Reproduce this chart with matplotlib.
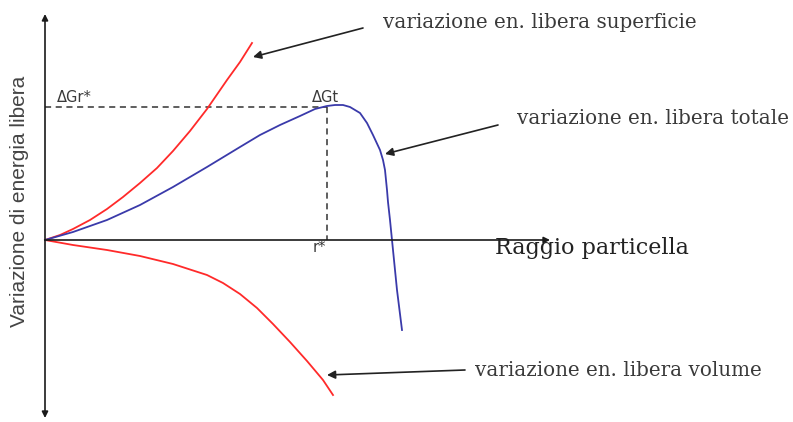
"""Schema: variazione di energia libera vs raggio della particella (nucleazione)."""

import matplotlib

matplotlib.use("Agg")
import matplotlib.pyplot as plt

# ── Data (origin = axis crossing) ─────────────────────────────────────────────

# surface free-energy term (red, rising)
r_surf = [0, 15, 28, 45, 62, 78, 95, 112, 128, 145, 162, 182, 195, 207]
g_surf = [0, 5, 11, 20, 31, 43, 57, 72, 89, 109, 131, 160, 178, 197]

# volume free-energy term (red, falling)
r_vol = [0, 28, 62, 95, 128, 162, 178, 195, 212, 228, 245, 262, 278, 288]
g_vol = [0, -5, -10, -16, -24, -35, -43, -54, -68, -84, -102, -121, -140, -155]

# total free energy (blue)
r_tot = [0, 28, 62, 95, 128, 162, 195, 215, 235, 255, 270, 282, 290, 298,
         305, 315, 322, 328, 335, 338, 340, 341, 342, 343, 345, 347, 352, 357]
g_tot = [0, 8, 20, 35, 53, 73, 93, 105, 115, 124, 131, 134, 135, 135,
         133, 127, 117, 105, 90, 80, 70, 60, 50, 38, 20, 0, -50, -90]

r_star = 282
g_star = 133

LABEL_Y = "Variazione di energia libera"
LABEL_X = "Raggio particella"
LABEL_SURF = "variazione en. libera superficie"
LABEL_TOT = "variazione en. libera totale"
LABEL_VOL = "variazione en. libera volume"

# ── Figure ────────────────────────────────────────────────────────────────────

fig = plt.figure(figsize=(7.93, 4.22), dpi=100)
ax = fig.add_axes([0, 0, 1, 1])
ax.set_xlim(-45, 748)
ax.set_ylim(-182, 240)
ax.axis("off")

AX_COL = "#1a1a1a"
TXT_COL = "#3a3a3a"
RED = "#ff2a2a"
BLUE = "#3a3aaa"

# axes with arrow heads
ax.annotate("", xy=(0, 226), xytext=(0, -178),
            arrowprops=dict(arrowstyle="<|-|>", color=AX_COL, lw=1.2,
                            mutation_scale=9, shrinkA=0, shrinkB=0))
ax.annotate("", xy=(505, 0), xytext=(0, 0),
            arrowprops=dict(arrowstyle="-|>", color=AX_COL, lw=1.2,
                            mutation_scale=9, shrinkA=0, shrinkB=0))

# dashed guides to the maximum
ax.plot([0, r_star], [g_star, g_star], ls=(0, (4, 3)), color="#333333", lw=1.1)
ax.plot([r_star, r_star], [g_star, 0], ls=(0, (4, 3)), color="#333333", lw=1.1)

# curves
ax.plot(r_surf, g_surf, color=RED, lw=1.3, solid_joinstyle="round")
ax.plot(r_vol, g_vol, color=RED, lw=1.3, solid_joinstyle="round")
ax.plot(r_tot, g_tot, color=BLUE, lw=1.3, solid_joinstyle="round")

# axis labels
ax.text(-25, 39, LABEL_Y, rotation=90, ha="center", va="center",
        fontsize=15, family="Liberation Sans", color="#444444")
ax.text(450, -8, LABEL_X, ha="left", va="center", fontsize=16,
        family="DejaVu Serif", color="#222222")

# point labels
ax.text(12, 143, "ΔGr*", ha="left", va="center", fontsize=10.5,
        family="DejaVu Sans", color=TXT_COL)
ax.text(280, 143, "ΔGt", ha="center", va="center", fontsize=10.5,
        family="DejaVu Sans", color=TXT_COL)
ax.text(274, -8, "r*", ha="center", va="center", fontsize=10.5,
        family="DejaVu Sans", color=TXT_COL)

# annotations
ann = dict(arrowstyle="-|>", color="#222222", lw=1.2, mutation_scale=12,
           shrinkA=0, shrinkB=0)
ax.annotate("", xy=(208, 183), xytext=(318, 212), arrowprops=ann)
ax.annotate("", xy=(340, 86), xytext=(453, 115), arrowprops=ann)
ax.annotate("", xy=(282, -135), xytext=(420, -130), arrowprops=ann)

ax.text(338, 217, LABEL_SURF, ha="left", va="center", fontsize=14.3,
        family="DejaVu Serif", color=TXT_COL)
ax.text(472, 122, LABEL_TOT, ha="left", va="center", fontsize=14.3,
        family="DejaVu Serif", color=TXT_COL)
ax.text(430, -130, LABEL_VOL, ha="left", va="center", fontsize=14.3,
        family="DejaVu Serif", color=TXT_COL)

fig.savefig("out.png", dpi=100)
plt.close(fig)
